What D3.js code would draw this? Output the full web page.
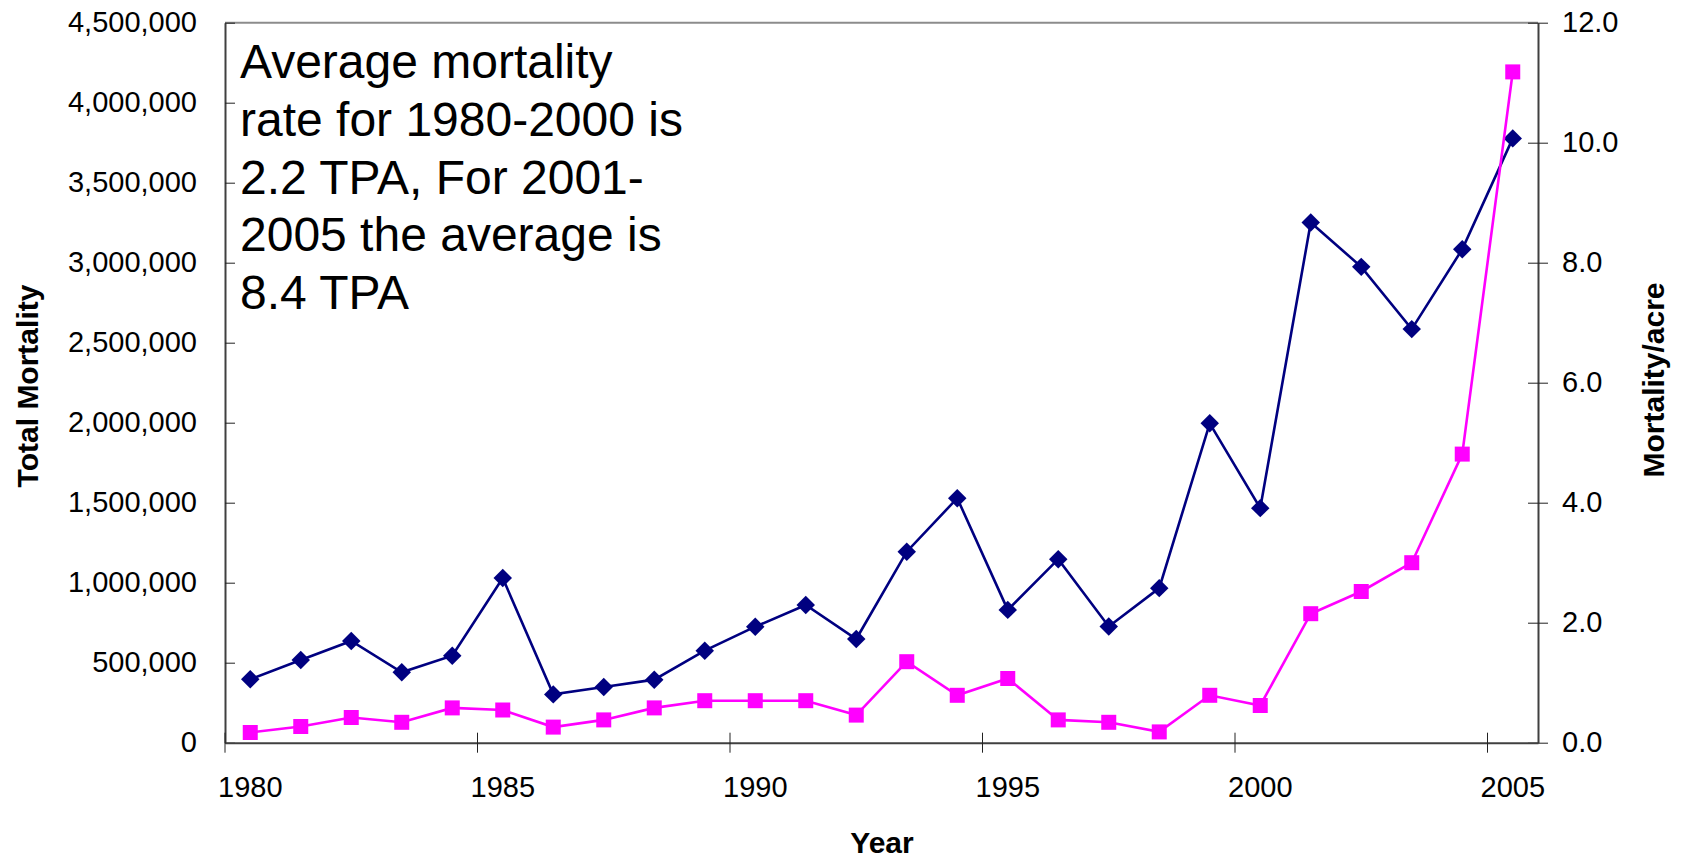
<!DOCTYPE html>
<html>
<head>
<meta charset="utf-8">
<script src="https://cdn.jsdelivr.net/npm/d3@7"></script>
<style>
  body { margin: 0; background: #fff; }
  svg { display: block; font-family: 'Liberation Sans', Arial, sans-serif; }
</style>
</head>
<body>
<div id="chart"></div>
<script>
// data
const years = d3.range(1980, 2006);
const totalMortality = [396000, 517000, 636000, 440000, 544000, 1029000, 302000, 348000, 394000, 575000,
  725000, 861000, 648000, 1194000, 1528000, 830000, 1147000, 726000, 966000, 1996000,
  1466000, 3251000, 2974000, 2585000, 3084000, 3777000];
const mortalityPerAcre = [0.17, 0.27, 0.42, 0.34, 0.58, 0.545, 0.26, 0.38, 0.58, 0.70,
  0.70, 0.70, 0.46, 1.35, 0.79, 1.07, 0.38, 0.34, 0.18, 0.79,
  0.62, 2.15, 2.52, 3.0, 4.81, 11.18];
const leftTicks = d3.range(0, 4500001, 500000);
const rightTicks = [0, 2, 4, 6, 8, 10, 12];
const yearTicks = [1980, 1985, 1990, 1995, 2000, 2005];
const noteLines = ['Average mortality', 'rate for 1980-2000 is', '2.2 TPA, For 2001-',
  '2005 the average is', '8.4 TPA'];

const W = 1684, H = 861;
const MARGIN = { TOP: 22.7, RIGHT: 146, BOTTOM: 118.3, LEFT: 225 };
const width = W - MARGIN.LEFT - MARGIN.RIGHT;
const height = H - MARGIN.TOP - MARGIN.BOTTOM;

const svg = d3.select('#chart').append('svg')
  .attr('width', W)
  .attr('height', H);

const g = svg.append('g')
  .attr('transform', `translate(${MARGIN.LEFT}, ${MARGIN.TOP})`);

const x = d3.scaleBand().domain(years).range([0, width]).padding(0);
const yLeft = d3.scaleLinear().domain([0, 4500000]).range([height, 0]);
const yRight = d3.scaleLinear().domain([0, 12]).range([height, 0]);
const cx = (d) => x(d) + x.bandwidth() / 2;

// plot area top edge
g.append('line')
  .attr('x1', 0).attr('x2', width)
  .attr('y1', 0).attr('y2', 0)
  .attr('stroke', '#8c8c8c').attr('stroke-width', 2);

// left axis
g.append('g')
  .call(d3.axisLeft(yLeft).tickValues(leftTicks).tickFormat(d3.format(',')).tickSizeInner(10).tickSizeOuter(0).tickPadding(18))
  .call((a) => {
    a.select('.domain').attr('stroke', '#404040').attr('stroke-width', 2);
    a.selectAll('.tick line').attr('x2', 10).attr('stroke', '#222');
    a.selectAll('.tick text').attr('font-size', 29).attr('fill', '#000');
  });

// right axis
g.append('g')
  .attr('transform', `translate(${width}, 0)`)
  .call(d3.axisRight(yRight).tickValues(rightTicks).tickFormat(d3.format('.1f')).tickSizeInner(10).tickSizeOuter(0).tickPadding(14))
  .call((a) => {
    a.select('.domain').attr('stroke', '#404040').attr('stroke-width', 2);
    a.selectAll('.tick line').attr('x1', -10).attr('stroke', '#222');
    a.selectAll('.tick text').attr('font-size', 29).attr('fill', '#000');
  });

// bottom axis: labels centred on categories, ticks on category boundaries
g.append('g')
  .attr('transform', `translate(0, ${height})`)
  .call(d3.axisBottom(x).tickValues(yearTicks).tickSize(0).tickPadding(34))
  .call((a) => {
    a.select('.domain').attr('stroke', '#404040').attr('stroke-width', 2);
    a.selectAll('.tick text').attr('font-size', 29).attr('fill', '#000');
  });

g.append('g')
  .selectAll('line')
  .data(yearTicks)
  .join('line')
  .attr('x1', (d) => x(d)).attr('x2', (d) => x(d))
  .attr('y1', height - 10).attr('y2', height + 10)
  .attr('stroke', '#222');

// total mortality series
const lineLeft = d3.line().x((d, i) => cx(years[i])).y((d) => yLeft(d));
g.append('path')
  .datum(totalMortality)
  .attr('d', lineLeft)
  .attr('fill', 'none')
  .attr('stroke', '#000080')
  .attr('stroke-width', 2.6);

// diamonds = squares turned 45deg
g.append('g')
  .selectAll('path')
  .data(totalMortality)
  .join('path')
  .attr('d', d3.symbol(d3.symbolSquare, 170))
  .attr('transform', (d, i) => `translate(${cx(years[i])}, ${yLeft(d)}) rotate(45)`)
  .attr('fill', '#000080');

// mortality per acre series
const lineRight = d3.line().x((d, i) => cx(years[i])).y((d) => yRight(d));
g.append('path')
  .datum(mortalityPerAcre)
  .attr('d', lineRight)
  .attr('fill', 'none')
  .attr('stroke', '#ff00ff')
  .attr('stroke-width', 2.6);

g.append('g')
  .selectAll('rect')
  .data(mortalityPerAcre)
  .join('rect')
  .attr('x', (d, i) => cx(years[i]) - 7.5)
  .attr('y', (d) => yRight(d) - 7.5)
  .attr('width', 15)
  .attr('height', 15)
  .attr('fill', '#ff00ff');

// note
svg.append('text')
  .attr('x', 240)
  .attr('y', 78.3)
  .attr('font-size', 48)
  .attr('fill', '#000')
  .selectAll('tspan')
  .data(noteLines)
  .join('tspan')
  .attr('x', 240)
  .attr('dy', (d, i) => (i === 0 ? 0 : 57.6))
  .text((d) => d);

// axis titles
svg.append('text')
  .attr('transform', 'translate(38, 386) rotate(-90)')
  .attr('text-anchor', 'middle')
  .attr('font-size', 30)
  .attr('font-weight', 'bold')
  .text('Total Mortality');

svg.append('text')
  .attr('transform', 'translate(1664, 380) rotate(-90)')
  .attr('text-anchor', 'middle')
  .attr('font-size', 30)
  .attr('font-weight', 'bold')
  .text('Mortality/acre');

svg.append('text')
  .attr('x', 882)
  .attr('y', 853)
  .attr('text-anchor', 'middle')
  .attr('font-size', 30)
  .attr('font-weight', 'bold')
  .text('Year');
</script>
</body>
</html>
